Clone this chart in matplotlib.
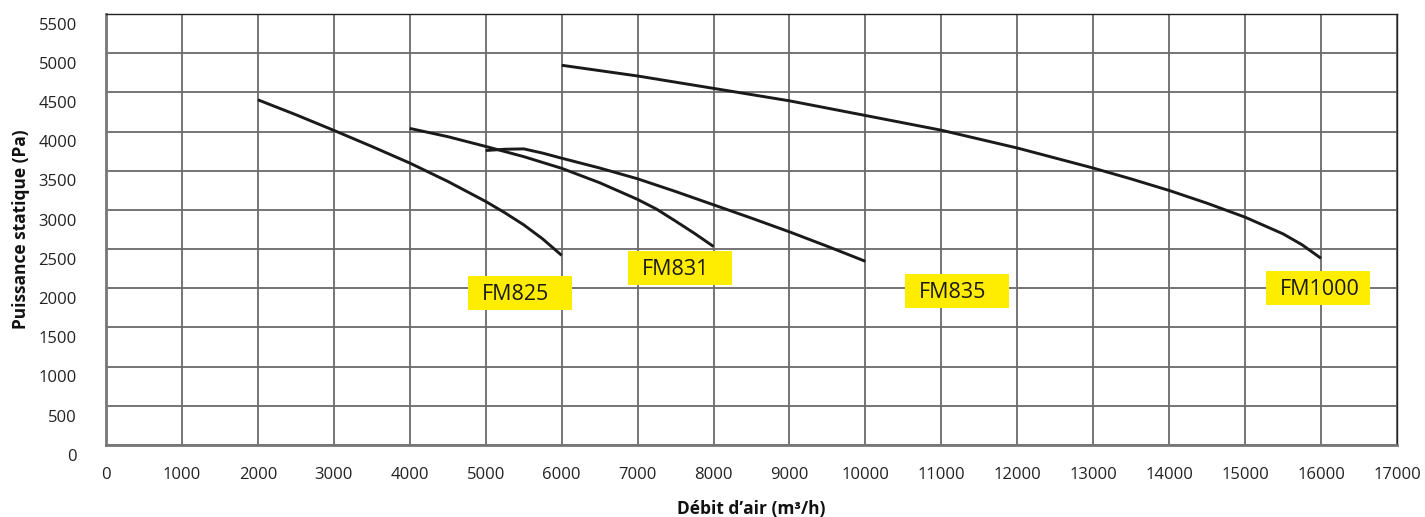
import matplotlib.pyplot as plt
import matplotlib.patches as mpatches
from matplotlib.transforms import ScaledTranslation

# curves: airflow (m3/h) vs static pressure (Pa)
fm825_x = [2000, 2500, 3000, 3500, 4000, 4500, 5000, 5250, 5500, 5750, 6000]
fm825_y = [4405, 4215, 4015, 3810, 3598, 3364, 3108, 2965, 2810, 2630, 2420]

fm831_x = [4000, 4500, 5000, 5500, 6000, 6500, 7000, 7250, 7500, 7750, 8000]
fm831_y = [4040, 3935, 3810, 3680, 3531, 3347, 3134, 3010, 2857, 2700, 2533]

fm835_x = [5000, 5250, 5500, 5750, 6000, 6500, 7000, 7500, 8000, 8500, 9000, 9500, 10000]
fm835_y = [3758, 3774, 3779, 3725, 3660, 3535, 3397, 3235, 3065, 2895, 2720, 2535, 2344]

fm1000_x = [6000, 7000, 8000, 9000, 10000, 11000, 12000, 13000, 13500, 14000, 14500,
            15000, 15500, 15750, 16000]
fm1000_y = [4846, 4709, 4551, 4392, 4205, 4017, 3790, 3534, 3395, 3248, 3085,
            2907, 2694, 2555, 2382]

labels = ["FM825", "FM831", "FM835", "FM1000"]
label_x = [5450, 7560, 11210, 15960]   # box centres
label_y = [1940, 2260, 1965, 2005]

x_ticks = list(range(0, 17001, 1000))
y_ticks = list(range(0, 5501, 500))

fig = plt.figure(figsize=(14.25, 5.17), dpi=100)
fig.patch.set_facecolor("white")
ax = fig.add_axes([106 / 1425, 72 / 517, 1291 / 1425, 431 / 517])

for xs, ys in [(fm825_x, fm825_y), (fm831_x, fm831_y), (fm835_x, fm835_y), (fm1000_x, fm1000_y)]:
    ax.plot(xs, ys, color="#1a1a1a", linewidth=2.1, zorder=3,
            solid_capstyle="butt", solid_joinstyle="round")

box_w, box_h = 1370, 430
for lab, cx, cy in zip(labels, label_x, label_y):
    ax.add_patch(mpatches.Rectangle((cx - box_w / 2, cy - box_h / 2), box_w, box_h,
                                    facecolor="#ffed00", edgecolor="none", zorder=4))
    ax.text(cx - box_w / 2 + 185, cy - 20, lab, ha="left", va="center", fontsize=15.5,
            family="Open Sans", color="#1a1a1a", zorder=5)

ax.set_xlim(0, 17000)
ax.set_ylim(0, 5500)
ax.set_xticks(x_ticks)
ax.set_yticks(y_ticks)
ax.set_xticklabels([str(v) for v in x_ticks], family="Open Sans", fontsize=12, color="#222222")
ax.set_yticklabels([str(v) for v in y_ticks], family="Open Sans", fontsize=12, color="#222222")
ax.tick_params(axis="both", length=0)
ax.tick_params(axis="x", pad=16)
ax.tick_params(axis="y", pad=21)

# y labels sit a little below their grid lines in the original
off = ScaledTranslation(0, -7 / 72, fig.dpi_scale_trans)
for t in ax.get_yticklabels():
    t.set_transform(t.get_transform() + off)

ax.grid(True, color="#6a6a6a", linewidth=1.3, zorder=0)
ax.set_axisbelow(True)
for side in ["top", "right"]:
    ax.spines[side].set_color("#222222")
    ax.spines[side].set_linewidth(1.0)
for side in ["left", "bottom"]:
    ax.spines[side].set_color("#777777")
    ax.spines[side].set_linewidth(2.0)

ax.set_xlabel("Débit d’air (m³/h)", family="Open Sans", fontweight="bold", fontsize=12.5,
              color="#111111", labelpad=12)
ax.set_ylabel("Puissance statique (Pa)", family="Open Sans", fontweight="bold", fontsize=12.5,
              color="#111111", labelpad=6)

plt.savefig("out.png", dpi=100, facecolor=fig.get_facecolor())
